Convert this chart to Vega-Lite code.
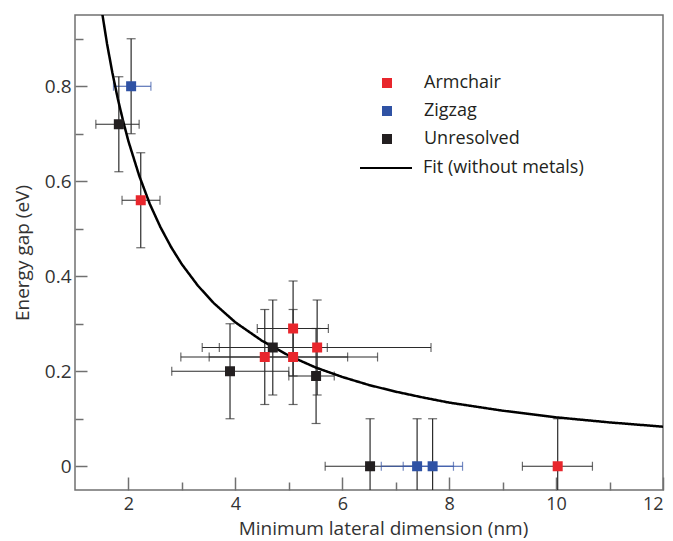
{
  "$schema": "https://vega.github.io/schema/vega-lite/v6.json",
  "width": 588,
  "height": 475,
  "autosize": {"type": "none"},
  "padding": {"left": 75, "top": 15, "right": 10, "bottom": 51},
  "background": "white",
  "config": {
    "view": {"stroke": "#707070", "strokeWidth": 1.5},
    "font": "Open Sans",
    "axis": {
      "grid": false,
      "domain": false,
      "tickColor": "#707070",
      "tickWidth": 1.5,
      "labelFontSize": 19,
      "titleFontSize": 19,
      "labelColor": "#333333",
      "titleColor": "#333333",
      "titleFontWeight": "normal",
      "labelFont": "Open Sans",
      "titleFont": "Open Sans"
    },
    "legend": {
      "labelFontSize": 18,
      "labelFont": "Open Sans",
      "labelColor": "#231f20",
      "labelLimit": 400,
      "padding": 0,
      "rowPadding": 10
    }
  },
  "datasets": {
    "pts": [
      {"type": "Zigzag", "w": 2.05, "gap": 0.80, "wlo": 1.72, "whi": 2.42, "glo": 0.70, "ghi": 0.90},
      {"type": "Unresolved", "w": 1.82, "gap": 0.72, "wlo": 1.39, "whi": 2.20, "glo": 0.62, "ghi": 0.82},
      {"type": "Armchair", "w": 2.23, "gap": 0.56, "wlo": 1.88, "whi": 2.59, "glo": 0.46, "ghi": 0.66},
      {"type": "Unresolved", "w": 3.90, "gap": 0.20, "wlo": 2.81, "whi": 5.00, "glo": 0.10, "ghi": 0.30},
      {"type": "Unresolved", "w": 4.70, "gap": 0.25, "wlo": 3.70, "whi": 5.72, "glo": 0.15, "ghi": 0.35},
      {"type": "Unresolved", "w": 5.51, "gap": 0.19, "wlo": 5.00, "whi": 5.85, "glo": 0.09, "ghi": 0.29},
      {"type": "Armchair", "w": 5.08, "gap": 0.29, "wlo": 4.41, "whi": 5.74, "glo": 0.19, "ghi": 0.39},
      {"type": "Armchair", "w": 5.08, "gap": 0.23, "wlo": 2.98, "whi": 6.66, "glo": 0.13, "ghi": 0.33},
      {"type": "Armchair", "w": 4.55, "gap": 0.23, "wlo": 3.51, "whi": 6.10, "glo": 0.13, "ghi": 0.33},
      {"type": "Armchair", "w": 5.53, "gap": 0.25, "wlo": 3.38, "whi": 7.66, "glo": 0.15, "ghi": 0.35},
      {"type": "Unresolved", "w": 6.52, "gap": 0.0, "wlo": 5.68, "whi": 7.36, "glo": -0.10, "ghi": 0.10},
      {"type": "Zigzag", "w": 7.40, "gap": 0.0, "wlo": 6.73, "whi": 8.08, "glo": -0.10, "ghi": 0.10},
      {"type": "Zigzag", "w": 7.69, "gap": 0.0, "wlo": 7.14, "whi": 8.25, "glo": -0.10, "ghi": 0.10},
      {"type": "Armchair", "w": 10.03, "gap": 0.0, "wlo": 9.37, "whi": 10.68, "glo": -0.10, "ghi": 0.10}
    ],
    "fit": [
      {"w": 1.5, "e": 0.960}, {"w": 1.6, "e": 0.889}, {"w": 1.7, "e": 0.828}, {"w": 1.8, "e": 0.774},
      {"w": 1.9, "e": 0.727}, {"w": 2.0, "e": 0.684}, {"w": 2.2, "e": 0.612}, {"w": 2.4, "e": 0.552},
      {"w": 2.6, "e": 0.503}, {"w": 2.8, "e": 0.461}, {"w": 3.0, "e": 0.425}, {"w": 3.3, "e": 0.380},
      {"w": 3.6, "e": 0.343}, {"w": 4.0, "e": 0.303}, {"w": 4.5, "e": 0.264}, {"w": 5.0, "e": 0.233},
      {"w": 5.5, "e": 0.208}, {"w": 6.0, "e": 0.188}, {"w": 6.5, "e": 0.171}, {"w": 7.0, "e": 0.157},
      {"w": 7.5, "e": 0.145}, {"w": 8.0, "e": 0.134}, {"w": 9.0, "e": 0.117}, {"w": 10.0, "e": 0.103},
      {"w": 11.0, "e": 0.0923}, {"w": 12.0, "e": 0.0833}
    ]
  },
  "resolve": {"axis": {"x": "independent", "y": "independent"}},
  "layer": [
    {
      "data": {"name": "pts"},
      "mark": {"type": "rule", "strokeWidth": 1.2, "clip": true},
      "encoding": {
        "x": {"field": "wlo", "type": "quantitative", "scale": {"domain": [1, 12], "nice": false, "zero": false}, "axis": null},
        "x2": {"field": "whi"},
        "y": {"field": "gap", "type": "quantitative", "scale": {"domain": [-0.05, 0.95], "nice": false, "zero": false}, "axis": null},
        "color": {"condition": {"test": "datum.type === 'Zigzag'", "value": "#3a58a8"}, "value": "#2b2b2b"}
      }
    },
    {
      "data": {"name": "pts"},
      "mark": {"type": "tick", "orient": "vertical", "size": 9, "thickness": 1.2, "clip": true},
      "encoding": {
        "x": {"field": "wlo", "type": "quantitative", "scale": {"domain": [1, 12], "nice": false, "zero": false}, "axis": null},
        "y": {"field": "gap", "type": "quantitative", "scale": {"domain": [-0.05, 0.95], "nice": false, "zero": false}, "axis": null},
        "color": {"condition": {"test": "datum.type === 'Zigzag'", "value": "#3a58a8"}, "value": "#2b2b2b"}
      }
    },
    {
      "data": {"name": "pts"},
      "mark": {"type": "tick", "orient": "vertical", "size": 9, "thickness": 1.2, "clip": true},
      "encoding": {
        "x": {"field": "whi", "type": "quantitative", "scale": {"domain": [1, 12], "nice": false, "zero": false}, "axis": null},
        "y": {"field": "gap", "type": "quantitative", "scale": {"domain": [-0.05, 0.95], "nice": false, "zero": false}, "axis": null},
        "color": {"condition": {"test": "datum.type === 'Zigzag'", "value": "#3a58a8"}, "value": "#2b2b2b"}
      }
    },
    {
      "data": {"name": "pts"},
      "mark": {"type": "rule", "strokeWidth": 1.2, "clip": true, "color": "#2b2b2b"},
      "encoding": {
        "x": {"field": "w", "type": "quantitative", "scale": {"domain": [1, 12], "nice": false, "zero": false}, "axis": null},
        "y": {"field": "glo", "type": "quantitative", "scale": {"domain": [-0.05, 0.95], "nice": false, "zero": false}, "axis": null},
        "y2": {"field": "ghi"}
      }
    },
    {
      "data": {"name": "pts"},
      "mark": {"type": "tick", "orient": "horizontal", "size": 9, "thickness": 1.2, "clip": true, "color": "#2b2b2b"},
      "encoding": {
        "x": {"field": "w", "type": "quantitative", "scale": {"domain": [1, 12], "nice": false, "zero": false}, "axis": null},
        "y": {"field": "glo", "type": "quantitative", "scale": {"domain": [-0.05, 0.95], "nice": false, "zero": false}, "axis": null}
      }
    },
    {
      "data": {"name": "pts"},
      "mark": {"type": "tick", "orient": "horizontal", "size": 9, "thickness": 1.2, "clip": true, "color": "#2b2b2b"},
      "encoding": {
        "x": {"field": "w", "type": "quantitative", "scale": {"domain": [1, 12], "nice": false, "zero": false}, "axis": null},
        "y": {"field": "ghi", "type": "quantitative", "scale": {"domain": [-0.05, 0.95], "nice": false, "zero": false}, "axis": null}
      }
    },
    {
      "data": {"name": "fit"},
      "mark": {"type": "line", "color": "#000000", "strokeWidth": 2.5, "clip": true},
      "encoding": {
        "x": {"field": "w", "type": "quantitative", "scale": {"domain": [1, 12], "nice": false, "zero": false},
          "axis": {"orient": "bottom", "values": [2, 4, 6, 8, 10, 12], "format": "d", "tickSize": -13, "labelPadding": 18, "labelFontSize": 18, "title": "Minimum lateral dimension (nm)", "titlePadding": 6, "titleX": 308}},
        "y": {"field": "e", "type": "quantitative", "scale": {"domain": [-0.05, 0.95], "nice": false, "zero": false},
          "axis": {"orient": "left", "values": [0, 0.2, 0.4, 0.6, 0.8], "format": ".1~f", "tickSize": -12, "labelPadding": 16, "title": "Energy gap (eV)", "titlePadding": 12}},
        "strokeDash": {"datum": "Fit (without metals)", "type": "nominal", "scale": {"range": [[1, 0]]},
          "legend": {"title": null, "orient": "none", "legendX": 284, "legendY": 126, "symbolType": "stroke", "symbolSize": 2704, "symbolStrokeWidth": 2, "symbolStrokeColor": "#000000", "labelOffset": 10}}
      }
    },
    {
      "data": {"name": "pts"},
      "mark": {"type": "square", "size": 100, "opacity": 1, "filled": true},
      "encoding": {
        "x": {"field": "w", "type": "quantitative", "scale": {"domain": [1, 12], "nice": false, "zero": false},
          "axis": {"orient": "bottom", "values": [3, 5, 7, 9, 11], "tickSize": -8, "labels": false, "title": null}},
        "y": {"field": "gap", "type": "quantitative", "scale": {"domain": [-0.05, 0.95], "nice": false, "zero": false},
          "axis": {"orient": "left", "values": [0.1, 0.3, 0.5, 0.7, 0.9], "tickSize": -8, "labels": false, "title": null}},
        "color": {"field": "type", "type": "nominal",
          "scale": {"domain": ["Armchair", "Zigzag", "Unresolved"], "range": ["#e8262c", "#2f52a4", "#231f20"]},
          "legend": {"title": null, "orient": "none", "legendX": 303, "legendY": 59, "symbolType": "square", "symbolSize": 100, "symbolStrokeWidth": 0, "labelOffset": 28}}
      }
    }
  ]
}
